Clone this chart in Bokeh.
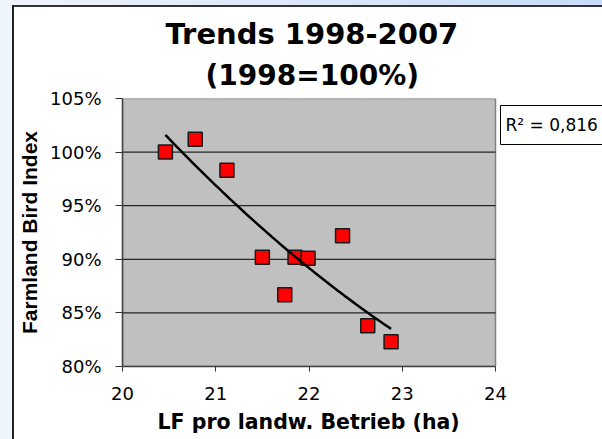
import numpy as np
from bokeh.plotting import figure
from bokeh.models import (Range1d, FixedTicker, PrintfTickFormatter, Title, Label,
                          BoxAnnotation)
from bokeh.embed import file_html
from bokeh.resources import INLINE

# ---- data ----
farm_size_ha = [20.46, 20.78, 21.12, 21.50, 21.74, 21.85, 21.99, 22.36, 22.63, 22.88]
bird_index_pct = [100.0, 101.2, 98.3, 90.2, 86.7, 90.2, 90.1, 92.2, 83.8, 82.3]
x_ticks = [20, 21, 22, 23, 24]
y_ticks = [80, 85, 90, 95, 100, 105]
r_squared_label = "R² = 0,816"
title_text = "Trends 1998-2007"
subtitle_text = "(1998=100%)"
x_label = "LF pro landw. Betrieb (ha)"
y_label = "Farmland Bird Index"

# ---- layout (pixels) ----
W, H = 602, 439
F_LEFT, F_TOP, F_BOTTOM = 122, 98, 366
AREA_RIGHT = 495          # right edge of the grey plot area
# the bokeh frame runs to the right edge so the R^2 box can sit right of the grey area
x_hi = x_ticks[-1] + (W - AREA_RIGHT) * (x_ticks[-1] - x_ticks[0]) / (AREA_RIGHT - F_LEFT)

p = figure(width=W, height=H, output_backend="svg", toolbar_location=None, title=None,
           x_range=Range1d(x_ticks[0], x_hi), y_range=Range1d(y_ticks[0], y_ticks[-1]),
           min_border_left=F_LEFT, min_border_right=0,
           min_border_top=F_TOP, min_border_bottom=H - F_BOTTOM)

# page background (light blue) with the white chart panel and its dark border
p.border_fill_color = None
p.styles = {
    "background": (
        "linear-gradient(#222,#222) 12px 5px / 2px 100% no-repeat, "
        "linear-gradient(#333,#333) 12px 5px / 100% 2px no-repeat, "
        "linear-gradient(#fff,#fff) 14px 7px / 100% 100% no-repeat, "
        "linear-gradient(to right, #f0f4fc, #c8dbf8)"
    )
}
p.background_fill_color = "white"
p.outline_line_color = None
p.xgrid.grid_line_color = None
p.ygrid.grid_line_color = None

# axes
p.xaxis.ticker = FixedTicker(ticks=x_ticks)
p.xaxis.bounds = (x_ticks[0], x_ticks[-1])
p.yaxis.ticker = FixedTicker(ticks=y_ticks)
p.yaxis.formatter = PrintfTickFormatter(format="%d%%")
p.axis.minor_tick_line_color = None
p.axis.major_tick_in = 0
p.xaxis.major_tick_out = 5
p.yaxis.major_tick_out = 7
p.axis.major_tick_line_color = "#333333"
p.axis.axis_line_color = "#404040"
p.axis.axis_line_width = 1.5
p.axis.major_label_text_font = "DejaVu Sans"
p.axis.major_label_text_font_size = "18px"
p.axis.major_label_text_color = "black"
p.xaxis.major_label_standoff = 15
p.yaxis.major_label_standoff = 14

p.yaxis.axis_label = y_label
p.yaxis.axis_label_text_font = "Liberation Sans"
p.yaxis.axis_label_text_font_size = "21px"
p.yaxis.axis_label_text_font_style = "bold"
p.yaxis.axis_label_text_color = "black"
p.yaxis.axis_label_standoff = 6

# x axis title (as a title below the axis, left aligned under the grey area)
p.add_layout(Title(text=x_label, align="left", offset=35, standoff=10,
                   text_font="DejaVu Sans", text_font_size="20.5px",
                   text_font_style="bold", text_color="black"), "below")

# titles (first added is nearest the plot)
sub = Title(text=subtitle_text, align="left", offset=83, text_font="DejaVu Sans",
            text_font_size="28px", text_font_style="bold", text_color="black", standoff=13)
main = Title(text=title_text, align="left", offset=43, text_font="DejaVu Sans",
             text_font_size="29px", text_font_style="bold", text_color="black", standoff=0)
p.add_layout(sub, "above")
p.add_layout(main, "above")

# grey plot area and horizontal grid lines
p.quad(left=[x_ticks[0]], right=[x_ticks[-1]], bottom=[y_ticks[0]], top=[y_ticks[-1]],
       fill_color="#c0c0c0", line_color="#808080", line_width=1.5, level="image")
grid_y = y_ticks[1:-1]
p.segment(x0=[x_ticks[0]] * len(grid_y), x1=[x_ticks[-1]] * len(grid_y),
          y0=grid_y, y1=grid_y, line_color="black", line_width=1)

# data
p.scatter(farm_size_ha, bird_index_pct, marker="square", size=14,
          fill_color="#ff0000", line_color="#1a1a1a", line_width=1.5)

coef = np.polyfit(farm_size_ha, bird_index_pct, 2)
xs = np.linspace(min(farm_size_ha), max(farm_size_ha), 60)
p.line(xs, np.polyval(coef, xs), line_color="black", line_width=2.5)

# R^2 box (screen units are relative to the frame, y upward from its bottom)
p.add_layout(BoxAnnotation(left=500 - F_LEFT, right=W - F_LEFT + 20,
                           top=F_BOTTOM - 105, bottom=F_BOTTOM - 144,
                           left_units="screen", right_units="screen",
                           top_units="screen", bottom_units="screen",
                           fill_color="white", fill_alpha=1,
                           line_color="black", line_width=1, line_alpha=1))
p.add_layout(Label(x=505 - F_LEFT, y=F_BOTTOM - 124.5, x_units="screen", y_units="screen",
                   text=r_squared_label, text_font="DejaVu Sans", text_font_size="17px",
                   text_color="black", text_align="left", text_baseline="middle"))

open("out.html", "w").write(file_html(p, INLINE))
